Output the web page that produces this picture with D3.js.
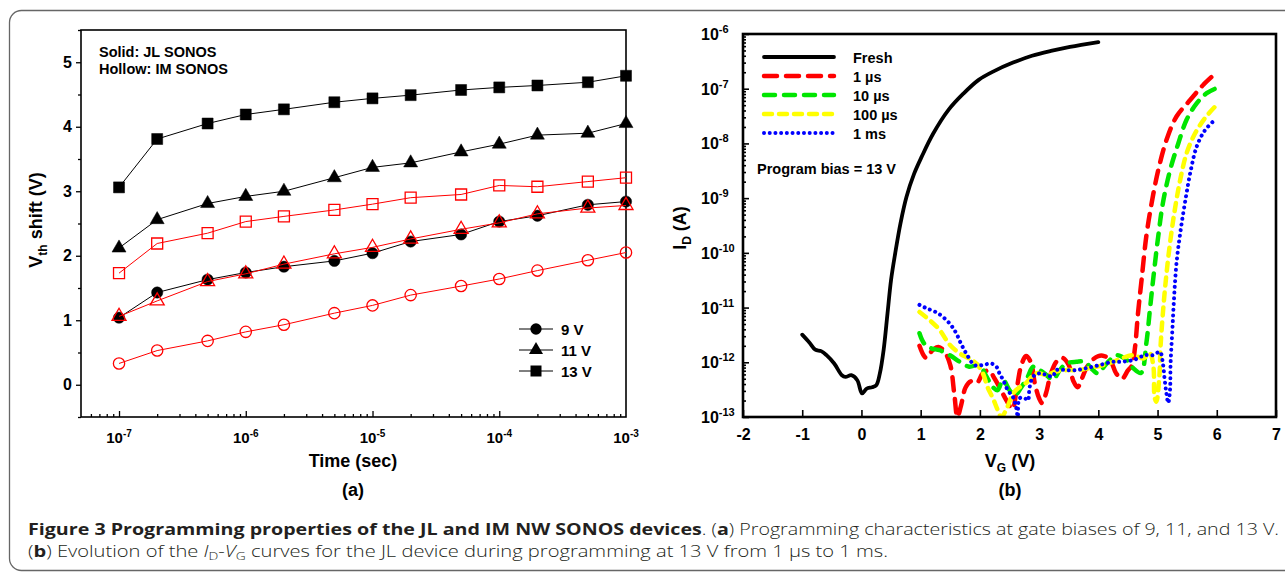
<!DOCTYPE html>
<html>
<head>
<meta charset="utf-8">
<title>Figure 3 - JL / IM NW SONOS programming</title>
<script src="https://d3js.org/d3.v7.min.js"></script>
<style>
body {margin: 0; background: #fff;}
svg {display: block; font-family: "Liberation Sans", Arial, sans-serif;}
</style>
</head>
<body>
<svg id="fig" width="1285" height="573"></svg>
<script>
// ---- (a) programming time vs Vth shift ----
var times = [1e-7, 2e-7, 5e-7, 1e-6, 2e-6, 5e-6, 1e-5, 2e-5, 5e-5, 1e-4, 2e-4, 5e-4, 1e-3];
var jl9  = [1.04, 1.43, 1.63, 1.74, 1.83, 1.92, 2.04, 2.22, 2.33, 2.53, 2.62, 2.79, 2.84];
var jl11 = [2.12, 2.56, 2.81, 2.92, 3.00, 3.21, 3.37, 3.44, 3.61, 3.73, 3.87, 3.90, 4.05];
var jl13 = [3.06, 3.81, 4.05, 4.19, 4.27, 4.38, 4.44, 4.49, 4.57, 4.61, 4.64, 4.69, 4.79];
var im9  = [0.33, 0.53, 0.68, 0.82, 0.93, 1.11, 1.23, 1.39, 1.53, 1.64, 1.77, 1.93, 2.05];
var im11 = [1.06, 1.30, 1.60, 1.72, 1.87, 2.03, 2.13, 2.26, 2.41, 2.51, 2.65, 2.74, 2.78];
var im13 = [1.73, 2.19, 2.35, 2.53, 2.61, 2.71, 2.80, 2.90, 2.95, 3.09, 3.07, 3.15, 3.21];
var vthTicks = [0, 1, 2, 3, 4, 5];
var timeTicks = [1e-7, 1e-6, 1e-5, 1e-4, 1e-3];
var biasLabels = ["9 V", "11 V", "13 V"];

// ---- (b) ID-VG curves, [VG (V), ID (A)] ----
var fresh = [[-1.0, 3.2e-12], [-0.88, 2.3e-12], [-0.78, 1.7e-12], [-0.68, 1.6e-12], [-0.59, 1.35e-12],
  [-0.46, 9.5e-13], [-0.33, 5.8e-13], [-0.27, 5.4e-13], [-0.17, 5.8e-13], [-0.07, 4.7e-13],
  [0.01, 2.7e-13], [0.09, 3.3e-13], [0.18, 3.5e-13], [0.25, 3.8e-13], [0.31, 6.2e-13],
  [0.375, 1.7e-12], [0.44, 7.8e-12], [0.50, 3.2e-11], [0.57, 9.8e-11], [0.66, 3.5e-10],
  [0.76, 1.05e-9], [0.89, 2.8e-9], [1.02, 5.8e-9], [1.21, 1.5e-8], [1.47, 4.1e-8],
  [1.72, 8.1e-8], [1.98, 1.45e-7], [2.24, 2.1e-7], [2.56, 3.0e-7], [2.88, 4.0e-7],
  [3.20, 4.9e-7], [3.52, 5.8e-7], [4.0, 7.1e-7]];
var us1 = [[0.98, 2.0e-12], [1.09, 1.2e-12], [1.2, 1.66e-12], [1.3, 1.9e-12], [1.4, 1.58e-12],
  [1.5, 8.9e-13], [1.57, 2.5e-13], [1.62, 1.0e-13], [1.68, 1.6e-13], [1.76, 3.5e-13],
  [1.85, 4.5e-13], [1.95, 4.2e-13], [2.05, 6.3e-13], [2.15, 7.1e-13], [2.25, 5.0e-13],
  [2.35, 3.2e-13], [2.45, 2.0e-13], [2.55, 1.4e-13], [2.62, 3.2e-13], [2.7, 8.9e-13],
  [2.78, 1.3e-12], [2.86, 1.0e-12], [2.93, 4.0e-13], [3.0, 2.2e-13], [3.05, 1.8e-13],
  [3.12, 2.8e-13], [3.2, 6.3e-13], [3.3, 1.05e-12], [3.4, 1.2e-12], [3.5, 8.9e-13],
  [3.58, 4.5e-13], [3.65, 3.5e-13], [3.72, 5.0e-13], [3.8, 7.9e-13], [3.9, 1.1e-12],
  [4.0, 1.3e-12], [4.1, 1.3e-12], [4.2, 1.1e-12], [4.3, 6.3e-13], [4.4, 5.0e-13],
  [4.5, 7.1e-13], [4.57, 8.9e-13], [4.62, 1.9e-12], [4.67, 7.9e-12], [4.73, 3.2e-11],
  [4.81, 2.0e-10], [4.9, 8.1e-10], [5.01, 3.2e-9], [5.15, 1.15e-8], [5.32, 3.1e-8],
  [5.55, 6.2e-8], [5.77, 1.17e-7], [6.0, 2.0e-7]];
var us10 = [[0.98, 3.4e-12], [1.06, 2.2e-12], [1.18, 1.8e-12], [1.32, 1.66e-12], [1.49, 1.35e-12],
  [1.66, 1.02e-12], [1.82, 8.3e-13], [1.99, 8.9e-13], [2.11, 5.5e-13], [2.22, 3.5e-13],
  [2.30, 3.1e-13], [2.39, 4.8e-13], [2.50, 3.1e-13], [2.59, 2.5e-13], [2.70, 3.5e-13],
  [2.81, 5.5e-13], [2.90, 8.3e-13], [3.01, 7.2e-13], [3.12, 5.9e-13], [3.23, 4.8e-13],
  [3.35, 7.2e-13], [3.46, 9.5e-13], [3.63, 1.02e-12], [3.77, 1.02e-12], [3.91, 7.2e-13],
  [3.99, 6.3e-13], [4.14, 9.5e-13], [4.31, 1.35e-12], [4.48, 1.1e-12], [4.59, 7.8e-13],
  [4.72, 6.4e-13], [4.81, 2.2e-12], [4.87, 8.9e-12], [4.93, 3.6e-11], [5.01, 1.95e-10],
  [5.09, 8.1e-10], [5.21, 3.2e-9], [5.35, 1.0e-8], [5.49, 2.7e-8], [5.66, 5.4e-8],
  [5.83, 8.3e-8], [5.99, 1.02e-7]];
var us100 = [[0.98, 8.3e-12], [1.15, 5.9e-12], [1.32, 3.9e-12], [1.49, 2.1e-12], [1.66, 1.45e-12],
  [1.82, 1.17e-12], [1.94, 9.5e-13], [2.05, 6.3e-13], [2.13, 3.5e-13], [2.22, 2.2e-13],
  [2.30, 1.35e-13], [2.36, 1.0e-13], [2.45, 1.4e-13], [2.53, 2.3e-13], [2.61, 3.1e-13],
  [2.78, 4.2e-13], [2.95, 6.3e-13], [3.12, 5.9e-13], [3.29, 6.8e-13], [3.46, 7.2e-13],
  [3.63, 7.2e-13], [3.85, 7.8e-13], [4.08, 8.9e-13], [4.25, 1.02e-12], [4.59, 1.35e-12],
  [4.76, 1.17e-12], [4.87, 1.45e-12], [4.93, 8.3e-13], [4.95, 2.3e-13], [4.98, 1.9e-13],
  [5.03, 5.5e-13], [5.05, 1.9e-12], [5.09, 7.9e-12], [5.14, 3.2e-11], [5.21, 1.5e-10],
  [5.29, 6.0e-10], [5.38, 2.1e-9], [5.49, 6.6e-9], [5.63, 1.5e-8], [5.80, 2.9e-8],
  [5.97, 4.7e-8]];
var ms1 = [[0.98, 1.12e-11], [1.09, 9.8e-12], [1.29, 7.9e-12], [1.49, 5.1e-12], [1.60, 3.4e-12],
  [1.68, 2.2e-12], [1.77, 1.45e-12], [1.91, 8.9e-13], [2.05, 8.9e-13], [2.19, 9.5e-13],
  [2.28, 8.3e-13], [2.33, 6.3e-13], [2.39, 4.8e-13], [2.47, 3.1e-13], [2.56, 2.3e-13],
  [2.61, 1.55e-13], [2.64, 1.0e-13], [2.67, 2.2e-13], [2.76, 2.2e-13], [2.81, 2.0e-13],
  [2.84, 3.5e-13], [2.90, 5.5e-13], [3.01, 6.3e-13], [3.12, 5.9e-13], [3.23, 5.5e-13],
  [3.29, 7.2e-13], [3.46, 7.2e-13], [3.63, 7.2e-13], [3.80, 7.8e-13], [4.02, 8.9e-13],
  [4.25, 1.02e-12], [4.36, 1.02e-12], [4.59, 1.1e-12], [4.79, 1.35e-12], [4.93, 1.35e-12],
  [5.04, 1.55e-12], [5.09, 9.5e-13], [5.12, 4.8e-13], [5.15, 2.7e-13], [5.18, 1.8e-13],
  [5.21, 3.1e-13], [5.22, 9.5e-13], [5.25, 3.9e-12], [5.28, 1.6e-11], [5.32, 6.5e-11],
  [5.39, 2.6e-10], [5.48, 1.07e-9], [5.56, 3.2e-9], [5.66, 8.7e-9], [5.80, 1.74e-8],
  [5.97, 2.7e-8]];
var curveLabels = ["Fresh", "1 \u00b5s", "10 \u00b5s", "100 \u00b5s", "1 ms"];
var vgTicks = [-2, -1, 0, 1, 2, 3, 4, 5, 6, 7];
var idExps = [-13, -12, -11, -10, -9, -8, -7, -6];

var svg = d3.select("#fig");
svg.append("rect").attr("width", 1285).attr("height", 573).attr("fill", "#fff");
// outer rounded frame of the figure
svg.append("rect").attr("x", 9.5).attr("y", 10.5).attr("width", 1320).attr("height", 560)
  .attr("rx", 12).attr("fill", "none").attr("stroke", "#666").attr("stroke-width", 1.3);

// =================== panel (a) ===================
var xA = d3.scaleLog().domain([Math.pow(10, -7.3), 1e-3]).range([81, 626]);
var yA = d3.scaleLinear().domain([-0.5, 5.5]).range([417, 30]);
var gA = svg.append("g");

var minorA = [];
for (var e = -8; e <= -4; e++) for (var m = 1; m <= 9; m++) {
  var v = m * Math.pow(10, e);
  if (v >= xA.domain()[0] * 1.001 && v <= 1e-3 && timeTicks.indexOf(v) < 0) minorA.push(v);
}
gA.append("g").attr("transform", "translate(0,417)")
  .call(d3.axisBottom(xA).tickValues(minorA).tickSize(-3).tickFormat(""))
  .call(function(g) { g.select(".domain").remove(); });
gA.append("g").attr("transform", "translate(0,417)")
  .call(d3.axisBottom(xA).tickValues(timeTicks.slice(0, 4)).tickSize(-6).tickFormat(""))
  .call(function(g) { g.select(".domain").remove(); });
gA.append("g").attr("transform", "translate(81,0)")
  .call(d3.axisLeft(yA).tickValues(d3.range(-0.5, 5.6, 1)).tickSize(3).tickFormat(""))
  .call(function(g) { g.select(".domain").remove(); });
gA.append("g").attr("transform", "translate(81,0)")
  .call(d3.axisLeft(yA).tickValues(vthTicks).tickSize(5).tickPadding(4).tickFormat(d3.format("d")))
  .call(function(g) { g.select(".domain").remove(); })
  .attr("font-family", null).attr("font-size", 16).attr("font-weight", "bold");
gA.selectAll(".tick line").attr("stroke-width", 1.3);

gA.selectAll("text.xlab").data(timeTicks).enter().append("text")
  .attr("class", "xlab").attr("x", function(d) { return xA(d); }).attr("y", 443)
  .attr("text-anchor", "middle").attr("font-size", 15).attr("font-weight", "bold")
  .each(function(d) {
    var t = d3.select(this);
    t.append("tspan").text("10");
    t.append("tspan").attr("dy", -6).attr("font-size", 10).text(String(Math.round(Math.log10(d))));
  });

gA.append("rect").attr("x", 81).attr("y", 30).attr("width", 545).attr("height", 387)
  .attr("fill", "none").attr("stroke", "#000").attr("stroke-width", 1.6);

var seriesA = [
  {vals: jl9, sym: d3.symbolCircle, size: 100, color: "#000", solid: true},
  {vals: jl11, sym: d3.symbolTriangle, size: 85, color: "#000", solid: true},
  {vals: jl13, sym: d3.symbolSquare, size: 121, color: "#000", solid: true},
  {vals: im9, sym: d3.symbolCircle, size: 100, color: "#f00", solid: false},
  {vals: im11, sym: d3.symbolTriangle, size: 85, color: "#f00", solid: false},
  {vals: im13, sym: d3.symbolSquare, size: 121, color: "#f00", solid: false}
];
var lineA = d3.line().x(function(d) { return xA(d[0]); }).y(function(d) { return yA(d[1]); });
seriesA.forEach(function(s) {
  var pts = times.map(function(t, i) { return [t, s.vals[i]]; });
  gA.append("path").attr("d", lineA(pts)).attr("fill", "none")
    .attr("stroke", s.color).attr("stroke-width", 1);
  gA.selectAll(null).data(pts).enter().append("path")
    .attr("transform", function(d) { return "translate(" + xA(d[0]) + "," + yA(d[1]) + ")"; })
    .attr("d", d3.symbol().type(s.sym).size(s.size))
    .attr("fill", s.solid ? s.color : "none")
    .attr("stroke", s.color).attr("stroke-width", s.solid ? 0.5 : 1.3);
});

gA.append("text").attr("x", 99).attr("y", 57).attr("font-size", 14.5).attr("font-weight", "bold")
  .text("Solid: JL SONOS");
gA.append("text").attr("x", 99).attr("y", 74).attr("font-size", 14.5).attr("font-weight", "bold")
  .text("Hollow: IM SONOS");

var legA = gA.selectAll("g.legA").data(seriesA.slice(0, 3)).enter().append("g")
  .attr("class", "legA")
  .attr("transform", function(d, i) { return "translate(0," + (329 + i * 21) + ")"; });
legA.append("line").attr("x1", 519).attr("x2", 553).attr("stroke", "#000").attr("stroke-width", 1);
legA.append("path").attr("transform", "translate(536,0)")
  .attr("d", function(d) { return d3.symbol().type(d.sym).size(d.size)(); }).attr("fill", "#000");
legA.append("text").attr("x", 561).attr("y", 6).attr("font-size", 15).attr("font-weight", "bold")
  .text(function(d, i) { return biasLabels[i]; });

var titleA = gA.append("text").attr("transform", "translate(42,220) rotate(-90)")
  .attr("text-anchor", "middle").attr("font-size", 18).attr("font-weight", "bold");
titleA.append("tspan").text("V");
titleA.append("tspan").attr("dy", 5).attr("font-size", 12).text("th");
titleA.append("tspan").attr("dy", -5).text(" shift (V)");

gA.append("text").attr("x", 353).attr("y", 467).attr("text-anchor", "middle")
  .attr("font-size", 18).attr("font-weight", "bold").text("Time (sec)");
gA.append("text").attr("x", 353).attr("y", 496).attr("text-anchor", "middle")
  .attr("font-size", 18).attr("font-weight", "bold").text("(a)");

// =================== panel (b) ===================
var xB = d3.scaleLinear().domain([-2, 7]).range([743, 1276]);
var yB = d3.scaleLog().domain([1e-13, 1e-6]).range([417, 34]);
var gB = svg.append("g");

var minorB = [];
for (var e2 = -13; e2 < -6; e2++) for (var m2 = 2; m2 <= 9; m2++) minorB.push(m2 * Math.pow(10, e2));
gB.append("g").attr("transform", "translate(743,0)")
  .call(d3.axisRight(yB).tickValues(minorB).tickSize(3).tickFormat(""))
  .call(function(g) { g.select(".domain").remove(); });
gB.append("g").attr("transform", "translate(743,0)")
  .call(d3.axisRight(yB).tickValues(idExps.map(function(k) { return Math.pow(10, k); })).tickSize(6).tickFormat(""))
  .call(function(g) { g.select(".domain").remove(); });
gB.append("g").attr("transform", "translate(0,417)")
  .call(d3.axisBottom(xB).tickValues(vgTicks).tickSize(-7).tickPadding(12)
    .tickFormat(function(d) { return String(d); }))
  .call(function(g) { g.select(".domain").remove(); })
  .attr("font-family", null).attr("font-size", 16).attr("font-weight", "bold");
gB.selectAll(".tick line").attr("stroke-width", 1.6);

gB.selectAll("text.ylab").data(idExps).enter().append("text")
  .attr("class", "ylab").attr("x", 701).attr("y", function(d) { return yB(Math.pow(10, d)) + 6; })
  .attr("font-size", 16).attr("font-weight", "bold")
  .each(function(d) {
    var t = d3.select(this);
    t.append("tspan").text("10");
    t.append("tspan").attr("dy", -7).attr("font-size", 11).text(String(d));
  });

svg.append("clipPath").attr("id", "clipB").append("rect")
  .attr("x", 743).attr("y", 34).attr("width", 533).attr("height", 383);

var seriesB = [
  {pts: fresh, color: "#000", width: 3.8, dash: null},
  {pts: us1, color: "#ff0000", width: 4.5, dash: "13 9"},
  {pts: us10, color: "#00e600", width: 4.5, dash: "11 9"},
  {pts: us100, color: "#ffff00", width: 4.5, dash: "8 7"},
  {pts: ms1, color: "#0000ff", width: 4, dash: "0.01 5.7"}
];
var lineB = d3.line().curve(d3.curveCatmullRom.alpha(0.5))
  .x(function(d) { return xB(d[0]); }).y(function(d) { return yB(d[1]); });
var curves = gB.append("g").attr("clip-path", "url(#clipB)");
seriesB.forEach(function(s) {
  curves.append("path").attr("d", lineB(s.pts)).attr("fill", "none")
    .attr("stroke", s.color).attr("stroke-width", s.width)
    .attr("stroke-linecap", "round").attr("stroke-linejoin", "round")
    .attr("stroke-dasharray", s.dash);
});

gB.append("rect").attr("x", 743).attr("y", 34).attr("width", 533).attr("height", 383)
  .attr("fill", "none").attr("stroke", "#000").attr("stroke-width", 2.6);

var legB = gB.selectAll("g.legB").data(seriesB).enter().append("g")
  .attr("class", "legB")
  .attr("transform", function(d, i) { return "translate(0," + (57 + i * 19) + ")"; });
legB.append("line").attr("x1", 764).attr("x2", 834)
  .attr("stroke", function(d) { return d.color; }).attr("stroke-width", function(d) { return d.width; })
  .attr("stroke-linecap", "round").attr("stroke-dasharray", function(d) { return d.dash; });
legB.append("text").attr("x", 853).attr("y", 5.5).attr("font-size", 14.5).attr("font-weight", "bold")
  .text(function(d, i) { return curveLabels[i]; });

gB.append("text").attr("x", 757).attr("y", 174).attr("font-size", 14.5).attr("font-weight", "bold")
  .text("Program bias = 13 V");

var titleB = gB.append("text").attr("transform", "translate(686,228) rotate(-90)")
  .attr("text-anchor", "middle").attr("font-size", 18).attr("font-weight", "bold");
titleB.append("tspan").text("I");
titleB.append("tspan").attr("dy", 5).attr("font-size", 12).text("D");
titleB.append("tspan").attr("dy", -5).text(" (A)");

var xTitleB = gB.append("text").attr("x", 1010).attr("y", 467).attr("text-anchor", "middle")
  .attr("font-size", 18).attr("font-weight", "bold");
xTitleB.append("tspan").text("V");
xTitleB.append("tspan").attr("dy", 5).attr("font-size", 12).text("G");
xTitleB.append("tspan").attr("dy", -5).text(" (V)");
gB.append("text").attr("x", 1010).attr("y", 496).attr("text-anchor", "middle")
  .attr("font-size", 18).attr("font-weight", "bold").text("(b)");

// =================== caption ===================
var cap1 = svg.append("text").attr("x", 28).attr("y", 535)
  .attr("font-family", "'Open Sans', sans-serif").attr("font-size", 16).attr("fill", "#231f20");
cap1.append("tspan").attr("font-weight", "bold").text("Figure 3 Programming properties of the JL and IM NW SONOS devices");
cap1.append("tspan").attr("font-weight", 300).text(". (");
cap1.append("tspan").attr("font-weight", "bold").text("a");
cap1.append("tspan").attr("font-weight", 300).text(") Programming characteristics at gate biases of 9, 11, and 13 V.");
cap1.attr("textLength", 1251).attr("lengthAdjust", "spacingAndGlyphs");

var cap2 = svg.append("text").attr("x", 28).attr("y", 557)
  .attr("font-family", "'Open Sans', sans-serif").attr("font-size", 16).attr("fill", "#231f20")
  .attr("font-weight", 300);
cap2.append("tspan").text("(");
cap2.append("tspan").attr("font-weight", "bold").text("b");
cap2.append("tspan").text(") Evolution of the ");
cap2.append("tspan").attr("font-style", "italic").text("I");
cap2.append("tspan").attr("dy", 3).attr("font-size", 11).text("D");
cap2.append("tspan").attr("dy", -3).text("-");
cap2.append("tspan").attr("font-style", "italic").text("V");
cap2.append("tspan").attr("dy", 3).attr("font-size", 11).text("G");
cap2.append("tspan").attr("dy", -3).text(" curves for the JL device during programming at 13 V from 1 \u00b5s to 1 ms.");
cap2.attr("textLength", 860).attr("lengthAdjust", "spacingAndGlyphs");
</script>
</body>
</html>
